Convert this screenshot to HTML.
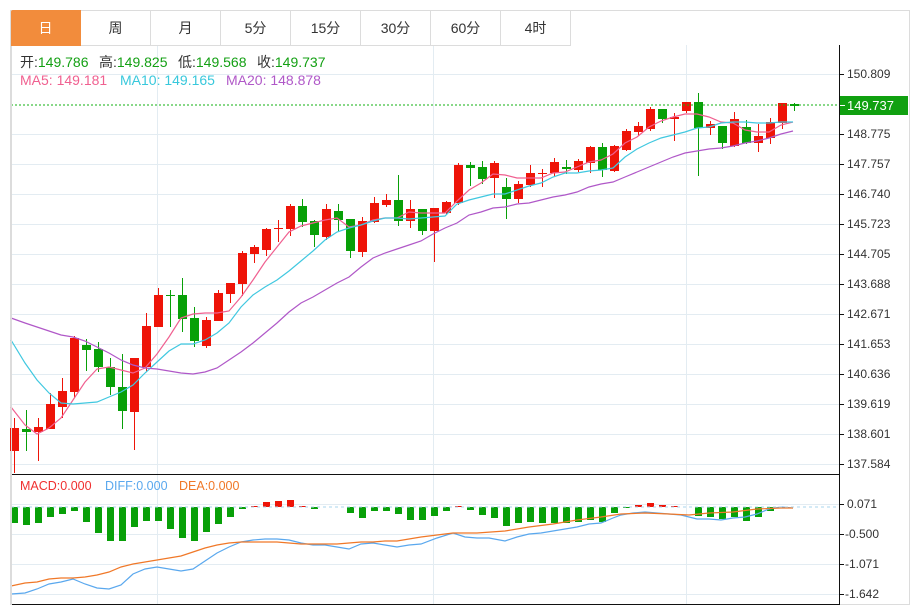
<!DOCTYPE html>
<html><head><meta charset="utf-8">
<style>
html,body{margin:0;padding:0;background:#fff;width:914px;height:606px;overflow:hidden;font-family:"Liberation Sans","Noto Sans CJK SC",sans-serif;}
svg{position:absolute;left:0;top:0}
.tabs{position:absolute;left:11px;top:10px;height:35px;display:flex}
.tab{width:69px;height:34px;border:1px solid #dcdcdc;border-left:none;display:flex;align-items:center;justify-content:center;font-size:14px;color:#333;background:#fff}
.tab.a{background:#f28c3c;color:#fff;border-color:#f28c3c;border-radius:2px 0 0 0}
</style></head><body>
<svg id="s" width="914" height="606" xmlns="http://www.w3.org/2000/svg" font-family="Liberation Sans, Noto Sans CJK SC, sans-serif">
<rect x="10.5" y="10.5" width="899" height="594" fill="none" stroke="#dcdcdc"/>
<g id="grid" stroke="#e3ecf2" stroke-width="1"></g>
<g id="cnd"></g>
<g id="lines" fill="none" stroke-width="1.2"></g>
<line x1="11" y1="105" x2="838" y2="105" stroke="#10b010" stroke-dasharray="2,2"/>
<line x1="11" y1="507" x2="838" y2="507" stroke="#a8d4ec" stroke-dasharray="3,3"/>
<line x1="11" y1="474.5" x2="839" y2="474.5" stroke="#111"/>
<line x1="11" y1="604.5" x2="839" y2="604.5" stroke="#111"/>
<line x1="839.5" y1="45" x2="839.5" y2="605" stroke="#111"/>
<line x1="11.5" y1="45" x2="11.5" y2="605" stroke="#dcdcdc"/>
<rect x="840" y="96" width="68" height="19" fill="#10a010"/>
<line x1="840" y1="105.5" x2="845" y2="105.5" stroke="#fff"/>
<text x="847" y="110" font-size="13" fill="#fff">149.737</text>
<g id="ax" font-size="12" fill="#333"></g>
<g font-size="14">
<text x="20" y="67" fill="#333">开:<tspan fill="#14a014">149.786</tspan></text>
<text x="99" y="67" fill="#333">高:<tspan fill="#14a014">149.825</tspan></text>
<text x="178" y="67" fill="#333">低:<tspan fill="#14a014">149.568</tspan></text>
<text x="257" y="67" fill="#333">收:<tspan fill="#14a014">149.737</tspan></text>
<text x="20" y="85" fill="#f06090">MA5: 149.181</text>
<text x="120" y="85" fill="#38c8dc">MA10: 149.165</text>
<text x="226" y="85" fill="#b058c8">MA20: 148.878</text>
</g>
<text x="20" y="490" font-size="12.5" fill="#f03030">MACD:0.000</text>
<text x="105" y="490" font-size="12.5" fill="#5aa8ee">DIFF:0.000</text>
<text x="179" y="490" font-size="12.5" fill="#f07828">DEA:0.000</text>
</svg>
<div class="tabs"><div class="tab a">日</div><div class="tab">周</div><div class="tab">月</div><div class="tab">5分</div><div class="tab">15分</div><div class="tab">30分</div><div class="tab">60分</div><div class="tab">4时</div></div>
<script>
var NS="http://www.w3.org/2000/svg";
function el(p,t,a){var e=document.createElementNS(NS,t);for(var k in a)e.setAttribute(k,a[k]);document.getElementById(p).appendChild(e);return e;}
var hy=[74,134,164,194,224,254,284,314,344,374,404,434,464,504,534,564,594];
hy.forEach(function(y){el("grid","line",{x1:11,x2:839,y1:y+.5,y2:y+.5});});
[157,433,686].forEach(function(x){el("grid","line",{x1:x+.5,x2:x+.5,y1:45,y2:604});});
var labs=[[74,"150.809"],[134,"148.775"],[164,"147.757"],[194,"146.740"],[224,"145.723"],[254,"144.705"],[284,"143.688"],[314,"142.671"],[344,"141.653"],[374,"140.636"],[404,"139.619"],[434,"138.601"],[464,"137.584"],[504,"0.071"],[534,"-0.500"],[564,"-1.071"],[594,"-1.642"]];
labs.forEach(function(l){el("ax","line",{x1:839,x2:844,y1:l[0]+.5,y2:l[0]+.5,stroke:"#111"});var t=el("ax","text",{x:l[1][0]=="-"?845:847,y:l[0]+4});t.textContent=l[1];});
var R="#ee1408",G="#08a008";
var C=[[428,451,418,473,R],[429,432,410,451,G],[427,432,418,461,R],[404,429,393,429,R],[391,407,378,418,R],[338,392,336,398,R],[345,350,339,371,G],[349,367,342,372,G],[367,387,358,395,G],[387,411,354,429,G],[358,412,358,450,R],[326,367,313,372,R],[295,327,288,327,R],[295,296,290,327,G],[295,319,278,332,G],[318,341,307,347,G],[320,346,317,348,R],[293,321,290,321,R],[283,294,283,303,R],[253,284,251,296,R],[247,254,245,263,R],[229,250,228,256,R],[228,229,220,242,R],[206,229,204,236,R],[206,222,199,227,G],[221,235,220,247,G],[209,237,204,240,R],[211,220,204,231,G],[219,251,219,258,G],[221,252,217,257,R],[203,222,197,223,R],[200,205,194,207,R],[200,221,175,226,G],[209,221,200,228,R],[209,231,209,235,G],[208,231,208,262,R],[202,213,201,214,R],[165,203,163,205,R],[165,168,162,186,G],[167,179,161,184,G],[163,178,161,198,R],[187,199,178,219,G],[184,199,181,203,R],[173,185,165,187,R],[173,174,169,187,R],[162,173,158,176,R],[167,169,160,174,G],[161,170,159,172,R],[147,163,146,173,R],[147,170,143,177,G],[146,171,145,172,R],[131,150,129,151,R],[126,132,122,136,R],[109,129,107,131,R],[109,119,109,123,G],[117,119,113,141,R],[102,111,102,113,R],[102,128,93,176,G],[124,128,121,135,R],[126,143,126,149,G],[119,146,112,147,R],[127,143,120,144,G],[136,143,124,152,R],[122,138,118,144,R],[103,123,103,129,R],[104,106,103,111,G]];
C.forEach(function(c,i){var x=14+12*i;el("cnd","line",{x1:x+.5,x2:x+.5,y1:c[2],y2:c[3],stroke:c[4]});el("cnd","rect",{x:x-4,y:c[0],width:9,height:Math.max(1,c[1]-c[0]),fill:c[4]});});
var M=[523,525,523,517,514,511,522,533,541,541,527,521,521,529,538,541,532,524,517,509,-506,-502,-501,-500,-506,509,507,507,513,518,511,511,514,520,520,516,511,-506,510,515,518,526,523,522,523,523,523,522,520,522,513,508,-505,-503,-505,-506,507,516,517,519,517,521,517,511,508,507];
M.forEach(function(v,i){var x=14+12*i-3;if(v<0){v=-v;el("cnd","rect",{x:x,y:v,width:7,height:507-v,fill:R});}else if(v>507){el("cnd","rect",{x:x,y:507,width:7,height:v-507,fill:G});}});
function pl(pts,col){el("lines","polyline",{points:pts,stroke:col});}
pl("11,407 25,425 37,434 49,428 61,418 73,400 85,382 97,369 109,367 121,370 133,373 145,368 157,354 169,337 181,318 193,314 205,313 217,313 229,311 241,297 253,280 265,262 277,247 289,232 301,226 313,223 325,220 337,218 349,227 361,225 373,220 385,218 397,218 409,212 421,213 433,213 445,213 457,201 469,190 481,183 493,174 505,175 517,178 529,178 541,178 553,173 565,172 577,167 589,162 601,160 613,154 625,143 637,137 649,127 661,121 673,117 685,114 697,114 709,117 721,122 733,123 745,130 757,132 769,132 781,125 793,122","#f06090");
pl("11,340 25,363 37,380 49,393 61,403 73,404 85,403 97,402 109,397 121,392 133,385 145,373 157,362 169,351 181,344 193,344 205,340 217,333 229,323 241,307 253,295 265,287 277,280 289,271 301,261 313,251 325,240 337,232 349,228 361,225 373,221 385,218 397,218 409,219 421,218 433,217 445,216 457,204 469,200 481,197 493,194 505,194 517,190 529,186 541,183 553,177 565,173 577,173 589,171 601,170 613,168 625,157 637,149 649,143 661,138 673,135 685,132 697,128 709,127 721,123 733,122 745,122 757,123 769,123 781,122 793,122","#40c8e0");
pl("11,318 25,323 37,327 49,331 61,335 73,337 85,341 97,347 109,353 121,360 133,365 145,368 157,369 169,371 181,373 193,374 205,372 217,368 229,360 241,352 253,343 265,333 277,323 289,312 301,303 313,297 325,290 337,283 349,277 361,267 373,258 385,253 397,249 409,245 421,241 433,234 445,228 457,223 469,215 481,212 493,208 505,207 517,204 529,203 541,200 553,197 565,195 577,192 589,187 601,184 613,182 625,177 637,172 649,167 661,162 673,157 685,153 697,151 709,149 721,148 733,146 745,143 757,141 769,138 781,134 793,131","#b058c8");
pl("11,594 25,593 37,589 49,584 61,582 73,579 85,584 97,588 109,589 121,585 133,574 145,569 157,567 169,569 181,571 193,569 205,561 217,553 229,547 241,542 253,540 265,539 277,539 289,540 301,543 313,545 325,545 337,547 349,549 361,544 373,543 385,545 397,547 409,545 421,544 437,538 453,533 465,537 477,538 489,538 505,541 517,537 529,534 541,533 553,531 565,529 577,527 589,524 601,523 613,518 621,515 633,513 645,512 657,513 669,514 681,515 697,519 709,519 721,520 733,518 745,517 757,514 769,509 781,507 793,508","#5aa8ee");
pl("11,586 25,583 37,582 49,579 61,578 73,578 85,577 97,575 109,572 121,567 133,564 145,562 157,560 169,558 181,556 193,552 205,548 217,545 229,543 241,542 253,542 265,542 277,542 289,543 301,544 313,544 325,544 337,544 349,543 361,542 373,542 385,541 397,541 409,539 421,537 453,533 477,533 505,531 529,527 553,524 577,520 601,517 621,514 645,513 669,514 689,515 709,513 733,512 757,509 781,508 793,508","#f07828");
</script>
</body></html>
